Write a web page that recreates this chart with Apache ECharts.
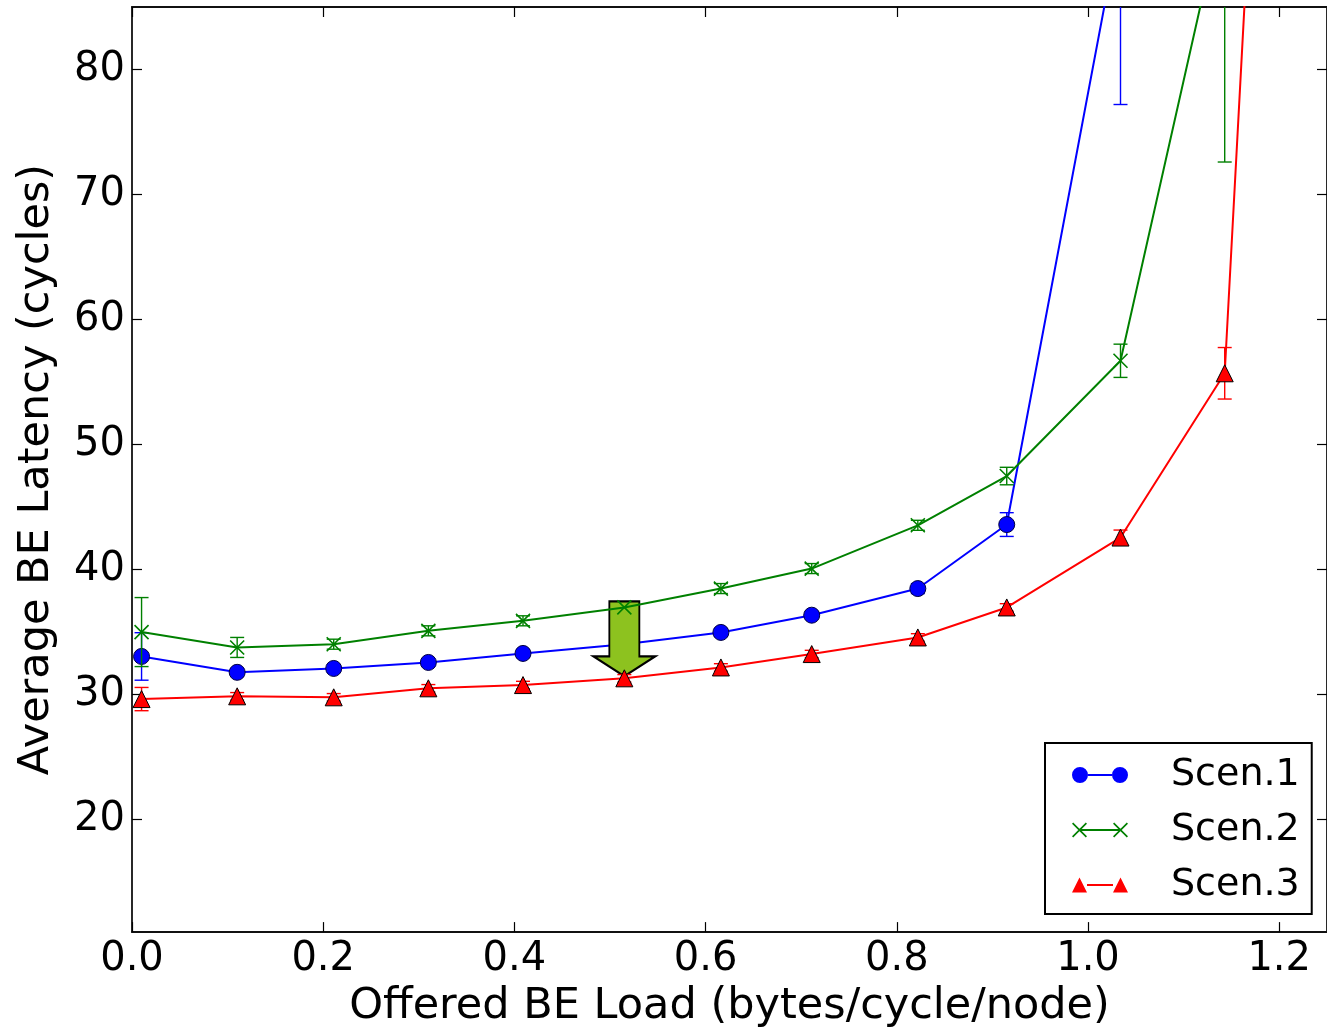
<!DOCTYPE html>
<html>
<head>
<meta charset="utf-8">
<script src="https://cdn.jsdelivr.net/npm/echarts@6/dist/echarts.min.js"></script>
<style>
html,body{margin:0;padding:0;background:#fff;}
#chart{width:1327px;height:1033px;}
</style>
</head>
<body>
<div id="chart"></div>
<script>
// ---- data ----
const loadX = [0.010, 0.110, 0.211, 0.310, 0.409, 0.515, 0.616, 0.711, 0.822, 0.915, 1.034, 1.143, 1.250];
const scen1 = [33.05, 31.78, 32.09, 32.57, 33.29, 34.03, 34.97, 36.35, 38.48, 43.6, 91.9];
const scen1Err = [1.9, 0.3, 0.3, 0.3, 0.3, 0.3, 0.3, 0.3, 0.4, 0.95, 14.7];
const scen2 = [35.0, 33.77, 34.03, 35.1, 35.9, 36.97, 38.48, 40.08, 43.54, 47.48, 56.7, 93.7];
const scen2Err = [2.76, 0.8, 0.4, 0.4, 0.4, 0.4, 0.4, 0.4, 0.4, 0.7, 1.33, 21.1];
const scen3 = [29.64, 29.86, 29.78, 30.5, 30.76, 31.3, 32.17, 33.24, 34.57, 36.97, 42.56, 55.7, 208];
const scen3Err = [0.93, 0.3, 0.3, 0.3, 0.3, 0.3, 0.3, 0.3, 0.3, 0.3, 0.6, 2.06, 0];
const seriesNames = ['Scen.1', 'Scen.2', 'Scen.3'];
const xTicks = [0, 0.2, 0.4, 0.6, 0.8, 1.0, 1.2];
const yTicks = [20, 30, 40, 50, 60, 70, 80];
const arrowIndex = 5;

const FONT = 'DejaVu Sans';
const BLUE = '#0000ff', GREEN = '#008000', RED = '#ff0000';

function pairs(vals) { return vals.map((v, i) => [loadX[i], v]); }
function errData(vals, errs) { return vals.map((v, i) => [loadX[i], v, errs[i]]); }

function errRender(color) {
  return function (params, api) {
    const x = api.value(0), y = api.value(1), e = api.value(2);
    const top = api.coord([x, y + e]);
    const bot = api.coord([x, y - e]);
    const hw = 7;
    const st = { stroke: color, lineWidth: 1.4 };
    return {
      type: 'group',
      children: [
        { type: 'line', shape: { x1: top[0], y1: top[1], x2: bot[0], y2: bot[1] }, style: st },
        { type: 'line', shape: { x1: top[0] - hw, y1: top[1], x2: top[0] + hw, y2: top[1] }, style: st },
        { type: 'line', shape: { x1: bot[0] - hw, y1: bot[1], x2: bot[0] + hw, y2: bot[1] }, style: st }
      ]
    };
  };
}

const iconCircles = 'path://M0,8 A8,8 0 1,1 16,8 A8,8 0 1,1 0,8 Z M40,8 A8,8 0 1,1 56,8 A8,8 0 1,1 40,8 Z M16,7 L40,7 L40,9 L16,9 Z';
const iconX = 'path://M0,1.2 L1.2,0 L15,13.8 L13.8,15 Z M13.8,0 L15,1.2 L1.2,15 L0,13.8 Z M41,1.2 L42.2,0 L56,13.8 L54.8,15 Z M54.8,0 L56,1.2 L42.2,15 L41,13.8 Z M7.5,6.6 L48.5,6.6 L48.5,8.4 L7.5,8.4 Z';
const iconTri = 'path://M0,15 L7.5,0 L15,15 Z M41,15 L48.5,0 L56,15 Z M15,6.5 L41,6.5 L41,8.5 L15,8.5 Z';

const chart = echarts.init(document.getElementById('chart'), null, { renderer: 'canvas' });

const axisCommon = {
  axisLine: { show: true, onZero: false, lineStyle: { color: '#111', width: 1.8 } },
  axisTick: { show: true, inside: true, length: 10, lineStyle: { color: '#000', width: 1.2 } },
  splitLine: { show: false }
};

const option = {
  animation: false,
  backgroundColor: '#fff',
  grid: { left: 132, top: 7, width: 1197, height: 927, containLabel: false },
  xAxis: [
    Object.assign({}, axisCommon, {
      type: 'value', min: 0, max: 1.25, position: 'bottom',
      axisTick: Object.assign({}, axisCommon.axisTick, { customValues: xTicks }),
      axisLabel: { customValues: xTicks, formatter: v => v.toFixed(1), fontFamily: FONT, fontSize: 40, color: '#000', margin: 8 },
      name: 'Offered BE Load (bytes/cycle/node)', nameLocation: 'middle', nameGap: 52,
      nameTextStyle: { fontFamily: FONT, fontSize: 43, color: '#000' }
    }),
    Object.assign({}, axisCommon, {
      type: 'value', min: 0, max: 1.25, position: 'top',
      axisTick: Object.assign({}, axisCommon.axisTick, { customValues: xTicks }),
      axisLabel: { show: false }
    })
  ],
  yAxis: [
    Object.assign({}, axisCommon, {
      type: 'value', min: 11, max: 85, position: 'left',
      axisTick: Object.assign({}, axisCommon.axisTick, { customValues: yTicks }),
      axisLabel: { customValues: yTicks, fontFamily: FONT, fontSize: 40, color: '#000', margin: 7 },
      name: 'Average BE Latency (cycles)', nameLocation: 'middle', nameGap: 74, nameRotate: 90,
      nameTextStyle: { fontFamily: FONT, fontSize: 43, color: '#000' }
    }),
    Object.assign({}, axisCommon, {
      type: 'value', min: 11, max: 85, position: 'right',
      axisTick: Object.assign({}, axisCommon.axisTick, { customValues: yTicks }),
      axisLabel: { show: false }
    })
  ],
  legend: {
    orient: 'vertical', left: 1045, top: 743,
    padding: [12, 12, 9, 27], itemGap: 15, itemWidth: 56, itemHeight: 16,
    backgroundColor: '#fff', borderColor: '#000', borderWidth: 2,
    selectedMode: false,
    textStyle: { fontFamily: FONT, fontSize: 38, color: '#000', lineHeight: 40, padding: [0, 0, 0, 38] },
    data: [
      { name: seriesNames[0], icon: iconCircles, itemStyle: { color: BLUE, borderWidth: 0 } },
      { name: seriesNames[1], icon: iconX, itemStyle: { color: GREEN, borderWidth: 0 } },
      { name: seriesNames[2], icon: iconTri, itemStyle: { color: RED, borderWidth: 0 } }
    ]
  },
  series: [
    { name: 'err1', type: 'custom', clip: true, renderItem: errRender(BLUE), data: errData(scen1, scen1Err), z: 2 },
    {
      name: seriesNames[0], type: 'line', data: pairs(scen1), clip: true, z: 3,
      symbol: 'circle', symbolSize: 16, showSymbol: true,
      lineStyle: { color: BLUE, width: 2 },
      itemStyle: { color: BLUE, borderColor: '#000040', borderWidth: 1 }
    },
    { name: 'err2', type: 'custom', clip: true, renderItem: errRender(GREEN), data: errData(scen2, scen2Err), z: 4 },
    {
      name: seriesNames[1], type: 'line', data: pairs(scen2), clip: true, z: 5,
      symbol: 'path://M0,0 L10,10 M10,0 L0,10', symbolSize: 14, showSymbol: true,
      lineStyle: { color: GREEN, width: 2 },
      itemStyle: { color: 'rgba(0,0,0,0)', borderColor: GREEN, borderWidth: 1.6 }
    },
    { name: 'err3', type: 'custom', clip: true, renderItem: errRender(RED), data: errData(scen3, scen3Err), z: 6 },
    {
      name: seriesNames[2], type: 'line', data: pairs(scen3), clip: true, z: 7,
      symbol: 'triangle', symbolSize: 17, showSymbol: true,
      lineStyle: { color: RED, width: 2 },
      itemStyle: { color: RED, borderColor: '#000', borderWidth: 1 },
      markPoint: {
        symbol: 'path://M16,0 L46,0 L46,55 L62,55 L31,75 L0,55 L16,55 Z',
        symbolSize: [62, 75],
        symbolOffset: [0, -39.5],
        label: { show: false },
        itemStyle: { color: '#8dc21f', borderColor: '#000', borderWidth: 2 },
        data: [{ coord: [loadX[arrowIndex], scen3[arrowIndex]] }]
      }
    }
  ]
};
chart.setOption(option);
</script>
</body>
</html>
